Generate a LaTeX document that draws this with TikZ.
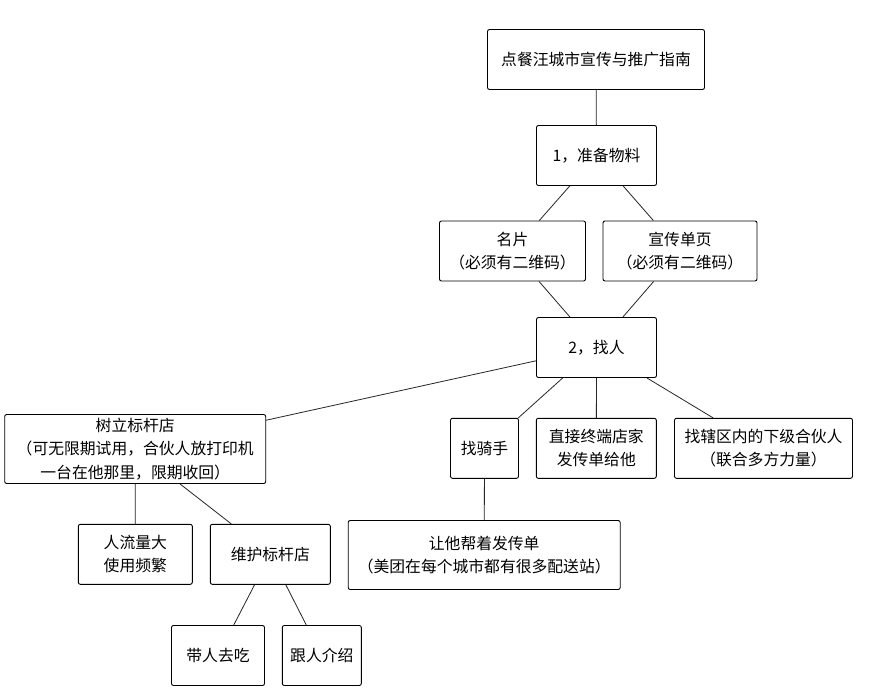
\documentclass[tikz,border=0pt]{standalone}
\usepackage{fontspec}
\setmainfont{Noto Sans CJK SC}
\begin{document}
\begin{tikzpicture}[x=1pt,y=-1pt,
  box/.style={draw=black,line width=0.9pt,rounded corners=2pt,fill=white,
    inner sep=0pt,align=center,font=\fontsize{15.8}{23.3}\selectfont,
    minimum width=#1},
  box/.default=120pt,
  link/.style={draw=black!85,line width=0.8pt}]
\fill[white] (0,0) rectangle (874,697);
\useasboundingbox (0,0) rectangle (874,697);
\node[box=217pt,minimum height=60pt] (title) at (596,59.5) {点餐汪城市宣传与推广指南};
\node[box=120pt,minimum height=60pt] (prep) at (596.5,155.5) {1，准备物料};
\node[box=146pt,minimum height=60pt] (card) at (512.5,251) {名片\\（必须有二维码）};
\node[box=154pt,minimum height=60pt] (flyer) at (680,251) {宣传单页\\（必须有二维码）};
\node[box=120pt,minimum height=60pt] (find) at (596.5,347.5) {2，找人};
\node[box=261pt,minimum height=69pt] (model) at (135.2,449) {树立标杆店\\（可无限期试用，合伙人放打印机\\一台在他那里，限期收回）};
\node[box=68pt,minimum height=60pt] (rider) at (484.5,448.3) {找骑手};
\node[box=120pt,minimum height=60pt] (direct) at (596.3,448.3) {直接终端店家\\发传单给他};
\node[box=178pt,minimum height=60pt] (sub) at (763.5,448.3) {找辖区内的下级合伙人\\（联合多方力量）};
\node[box=272pt,minimum height=69pt] (help) at (484.2,555) {让他帮着发传单\\（美团在每个城市都有很多配送站）};
\node[box=114pt,minimum height=60pt] (traffic) at (135.3,554.3) {人流量大\\使用频繁};
\node[box=120pt,minimum height=60pt] (maintain) at (270.3,554.3) {维护标杆店};
\node[box=93pt,minimum height=60pt] (eat) at (218,655.5) {带人去吃};
\node[box=79pt,minimum height=60pt] (intro) at (321.8,655.5) {跟人介绍};
\draw[link] (title) -- (prep);
\draw[link] (prep) -- (card);
\draw[link] (prep) -- (flyer);
\draw[link] (card) -- (find);
\draw[link] (flyer) -- (find);
\draw[link] (find) -- (model);
\draw[link] (find) -- (rider);
\draw[link] (find) -- (direct);
\draw[link] (find) -- (sub);
\draw[link] (rider) -- (help);
\draw[link] (model) -- (traffic);
\draw[link] (model) -- (maintain);
\draw[link] (maintain) -- (eat);
\draw[link] (maintain) -- (intro);
\end{tikzpicture}
\end{document}
